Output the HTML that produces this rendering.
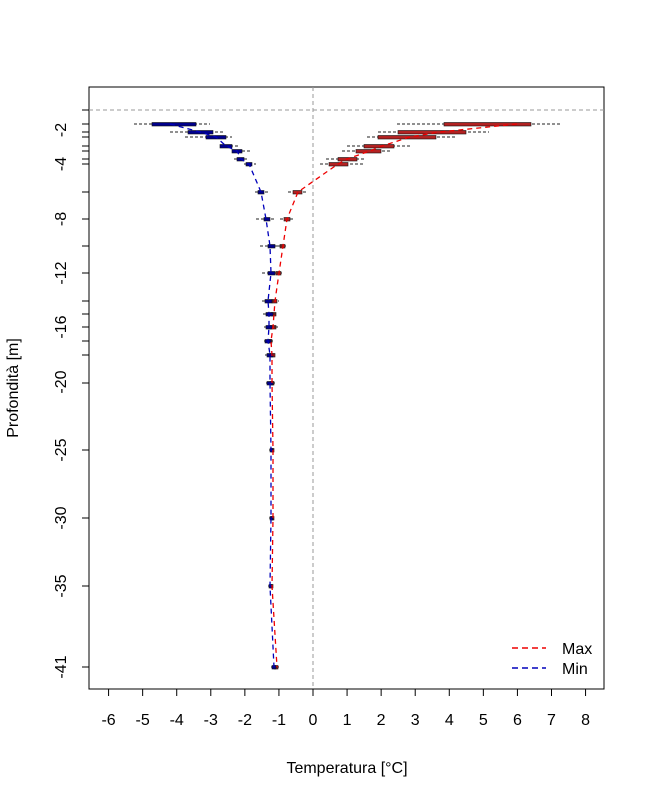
<!DOCTYPE html>
<html><head><meta charset="utf-8"><style>body{margin:0;background:#fff}svg{display:block}</style></head>
<body>
<svg id="s" width="650" height="800" xmlns="http://www.w3.org/2000/svg" font-family="Liberation Sans, sans-serif" font-size="16">
<rect x="89" y="87" width="515" height="602" fill="none" stroke="#000"/>
<line x1="89" y1="110" x2="604" y2="110" stroke="#999" stroke-dasharray="4,3"/>
<line x1="313" y1="87" x2="313" y2="689" stroke="#999" stroke-dasharray="4,3"/>
<g id="g"></g>
<line x1="512" y1="648" x2="546" y2="648" stroke="#e00" stroke-width="1.5" stroke-dasharray="6,4"/>
<line x1="512" y1="668" x2="546" y2="668" stroke="#00b" stroke-width="1.5" stroke-dasharray="6,4"/>
<text x="562" y="654">Max</text><text x="562" y="674">Min</text>
<text x="347" y="773" text-anchor="middle">Temperatura [°C]</text>
<text transform="translate(18,388) rotate(-90)" text-anchor="middle">Profondità [m]</text>
</svg>
<script>
var g=document.getElementById('g'),h='';
for(var i=-6;i<=8;i++){var x=313+i*34.07;h+='<line x1="'+x+'" y1="689" x2="'+x+'" y2="696" stroke="#000"/><text x="'+x+'" y="725" text-anchor="middle">'+i+'</text>';}
var ticks=[110,124,132,137,146,151,159,164,192,219,246,273,301,314,327,341,355,383,450,518,586,667];
ticks.forEach(function(y){h+='<line x1="82" y1="'+y+'" x2="89" y2="'+y+'" stroke="#000"/>';});
[[130,'-2'],[164,'-4'],[219,'-8'],[273,'-12'],[327,'-16'],[382,'-20'],[450,'-25'],[518,'-30'],[586,'-35'],[667,'-41']].forEach(function(a){h+='<text transform="translate(66,'+a[0]+') rotate(-90)" text-anchor="middle">'+a[1]+'</text>';});
var red=[[124,397,444,531,562],[132,378,398,466,489],[137,367,378,436,455],[146,347,364,394,410],[151,342,356,381,390],[159,326,338,357,366],[164,320,329,348,363],[192,288,293,302,306],[219,280,284,290,295],[246,278,280,285,288],[273,274,276,281,283],[301,268,272,277,279],[314,268,271,276,278],[327,267,270,276,278],[341,265,268,272,274],[355,267,270,275,276],[383,268,270,274,275],[450,270,271,274,275],[518,270,271,274,275],[586,269,270,273,274],[667,273,274,278,279]];
var blu=[[124,134,152,196,210],[132,170,188,213,224],[137,185,206,226,232],[146,220,220,232,239],[151,232,232,242,250],[159,234,237,244,247],[164,244,246,252,256],[192,255,258,264,268],[219,256,264,270,276],[246,260,268,275,286],[273,262,268,275,282],[301,262,265,272,277],[314,263,266,273,276],[327,264,266,272,277],[341,264,265,271,273],[355,265,267,273,275],[383,266,267,273,274],[450,269,270,273,274],[518,269,270,273,274],[586,268,269,272,273],[667,271,272,276,277]];
function rows(arr,fill){arr.forEach(function(r){h+='<line x1="'+r[1]+'" y1="'+r[0]+'" x2="'+r[4]+'" y2="'+r[0]+'" stroke="#222" stroke-width="0.9" stroke-dasharray="3,2"/>';h+='<rect x="'+r[2]+'" y="'+(r[0]-1.5)+'" width="'+Math.max(2,r[3]-r[2])+'" height="3.5" fill="'+fill+'" stroke="#111" stroke-width="0.6"/>';});}
rows(red,'#b22222');rows(blu,'#00008b');
var rl=[[517,124],[440,132],[410,137],[382,146],[370,151],[347,159],[338,164],[298,192],[287,219],[283,246],[279,273],[275,301],[274,314],[273,327],[271,341],[272,355],[272,383],[273,450],[273,518],[272,586],[277,667]];
var bl=[[170,124],[200,132],[216,137],[226,146],[237,151],[241,159],[249,164],[261,192],[266,219],[270,246],[271,273],[268,301],[269,314],[269,327],[268,341],[270,355],[270,383],[271,450],[271,518],[270,586],[274,667]];
function pl(p,c){h+='<polyline points="'+p.map(function(a){return a.join(',')}).join(' ')+'" fill="none" stroke="'+c+'" stroke-width="1.3" stroke-dasharray="5,4"/>';}
pl(rl,'#e00');pl(bl,'#00b');
g.innerHTML=h;
</script>
</body></html>
